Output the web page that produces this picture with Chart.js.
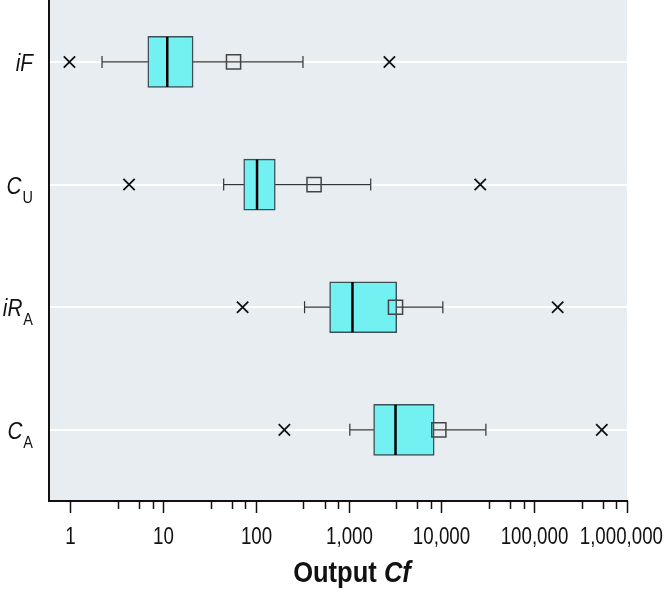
<!DOCTYPE html>
<html>
<head>
<meta charset="utf-8">
<script src="https://cdn.jsdelivr.net/npm/chart.js@4.4.1/dist/chart.umd.min.js"></script>
<style>
  html, body { margin: 0; padding: 0; background: #ffffff; }
  canvas { display: block; }
</style>
</head>
<body>
<canvas id="chart" width="671" height="592"></canvas>
<script>
const LABEL_MAIN = ["iF", "C", "iR", "C"];
const LABEL_SUB = ["", "U", "A", "A"];

const MIN_VALUES = [0.98, 4.3, 72, 203];
const WHISKER_LOW = [2.2, 45, 335, 1030];
const Q1_VALUES = [6.85, 74, 624, 1860];
const MEDIAN_VALUES = [11.1, 103, 1100, 3200];
const Q3_VALUES = [21.1, 162, 3300, 8360];
const MEAN_VALUES = [57.5, 424, 3200, 9380];
const WHISKER_HIGH = [322, 1730, 10360, 30150];
const MAX_VALUES = [2750, 26200, 179000, 535000];

const MAJOR_TICKS = [1, 10, 100, 1000, 10000, 100000, 1000000];
const MINOR_STEPS = [3.25, 5.5, 7.7];

const FONT = '"Liberation Sans", Arial, "DejaVu Sans", sans-serif';

const rows = LABEL_MAIN.map((_, i) => i);
const points = (values) => values.map((v, i) => ({ x: v, y: i }));

// text drawn narrower than the installed font, to mimic a condensed face
function narrowText(ctx, text, x, y, font, align, squeeze) {
  ctx.save();
  ctx.font = font;
  const w = ctx.measureText(text).width * squeeze;
  let left = x;
  if (align === "center") left = x - w / 2;
  if (align === "right") left = x - w;
  ctx.translate(left, y);
  ctx.scale(squeeze, 1);
  ctx.textAlign = "left";
  ctx.fillText(text, 0, 0);
  ctx.restore();
  return w;
}

function textWidth(ctx, text, font, squeeze) {
  ctx.save();
  ctx.font = font;
  const w = ctx.measureText(text).width * squeeze;
  ctx.restore();
  return w;
}

const plotBackground = {
  id: "plotBackground",
  beforeDraw(chart) {
    const { ctx, chartArea } = chart;
    ctx.save();
    ctx.fillStyle = "#e8edf1";
    ctx.fillRect(chartArea.left, chartArea.top, chartArea.right - chartArea.left, chartArea.bottom - chartArea.top);
    ctx.restore();
  },
};

const axisDecor = {
  id: "axisDecor",
  afterDraw(chart) {
    const { ctx, chartArea, width } = chart;
    const xScale = chart.scales.x;
    const yScale = chart.scales.y;
    ctx.save();

    // tick marks and labels below the x axis
    ctx.strokeStyle = "#111";
    ctx.fillStyle = "#111";
    ctx.lineWidth = 1.5;
    ctx.textBaseline = "alphabetic";
    const tickFont = "24px " + FONT;
    MAJOR_TICKS.forEach((v) => {
      const px = Math.round(xScale.getPixelForValue(v)) + 0.5;
      ctx.beginPath();
      ctx.moveTo(px, chartArea.bottom);
      ctx.lineTo(px, chartArea.bottom + 12);
      ctx.stroke();
      if (v < 1000000) {
        MINOR_STEPS.forEach((m) => {
          const mx = Math.round(xScale.getPixelForValue(v * m)) + 0.5;
          ctx.beginPath();
          ctx.moveTo(mx, chartArea.bottom);
          ctx.lineTo(mx, chartArea.bottom + 8);
          ctx.stroke();
        });
      }
      const label = v.toLocaleString("en-US");
      const w = textWidth(ctx, label, tickFont, 0.78);
      const cx = Math.min(px, width - 8 - w / 2);
      narrowText(ctx, label, cx, 544, tickFont, "center", 0.78);
    });

    // category labels with subscripts
    rows.forEach((i) => {
      const py = yScale.getPixelForValue(i);
      const right = 33;
      const subFont = "17px " + FONT;
      const mainFont = "italic 23px " + FONT;
      const subWidth = LABEL_SUB[i] ? textWidth(ctx, LABEL_SUB[i], subFont, 0.85) + 1 : 0;
      narrowText(ctx, LABEL_MAIN[i], right - subWidth, py + 9, mainFont, "right", 0.9);
      if (LABEL_SUB[i]) {
        narrowText(ctx, LABEL_SUB[i], right - subWidth + 1, py + 18, subFont, "left", 0.85);
      }
    });

    // axis title
    const fontA = "bold 29px " + FONT;
    const fontB = "italic bold 29px " + FONT;
    const wA = textWidth(ctx, "Output ", fontA, 0.88);
    const wB = textWidth(ctx, "Cf", fontB, 0.88);
    const startX = 352 - (wA + wB) / 2;
    narrowText(ctx, "Output ", startX, 582, fontA, "left", 0.88);
    narrowText(ctx, "Cf", startX + wA, 582, fontB, "left", 0.88);
    ctx.restore();
  },
};

const chart = new Chart(document.getElementById("chart"), {
  type: "scatter",
  data: {
    datasets: [
      ...rows.map((i) => ({
        type: "line",
        data: [{ x: WHISKER_LOW[i], y: i }, { x: WHISKER_HIGH[i], y: i }],
        borderColor: "#333",
        borderWidth: 1.2,
        pointRadius: 0,
        order: 9,
      })),
      {
        type: "bar",
        indexAxis: "y",
        data: rows.map((i) => ({ y: i, x: [Q1_VALUES[i], Q3_VALUES[i]] })),
        backgroundColor: "#72f0f2",
        borderColor: "#3b4f55",
        borderWidth: 1.5,
        borderSkipped: false,
        barThickness: 51,
        order: 5,
      },
      {
        data: points(MEDIAN_VALUES),
        pointStyle: "line",
        rotation: 90,
        pointRadius: 25,
        borderColor: "#000",
        pointBorderWidth: 2.5,
        order: 4,
      },
      {
        data: [...points(WHISKER_LOW), ...points(WHISKER_HIGH)],
        pointStyle: "line",
        rotation: 90,
        pointRadius: 6,
        borderColor: "#333",
        pointBorderWidth: 1.2,
        order: 3,
      },
      {
        data: points(MEAN_VALUES),
        pointStyle: "rect",
        pointRadius: 10,
        backgroundColor: "rgba(0,0,0,0)",
        borderColor: "#444",
        pointBorderWidth: 1.5,
        order: 2,
      },
      {
        data: [...points(MIN_VALUES), ...points(MAX_VALUES)],
        pointStyle: "crossRot",
        pointRadius: 8,
        borderColor: "#111",
        pointBorderWidth: 1.8,
        order: 1,
      },
    ],
  },
  options: {
    responsive: false,
    animation: false,
    events: [],
    layout: { autoPadding: false, padding: { top: 0, right: 44, left: 0, bottom: 0 } },
    plugins: {
      legend: { display: false },
      tooltip: { enabled: false },
    },
    scales: {
      x: {
        type: "logarithmic",
        min: 0.59,
        max: 1000000,
        afterBuildTicks(scale) {
          scale.ticks = MAJOR_TICKS.map((v) => ({ value: v }));
        },
        afterFit(scale) {
          scale.height = 91;
          scale.paddingLeft = 0;
          scale.paddingRight = 0;
        },
        grid: { display: false, drawTicks: false },
        border: { display: true, color: "#111", width: 2 },
        ticks: { display: false },
      },
      y: {
        type: "linear",
        reverse: true,
        offset: false,
        min: -0.505,
        max: 3.58,
        afterBuildTicks(scale) {
          scale.ticks = rows.map((v) => ({ value: v }));
        },
        afterFit(scale) {
          scale.width = 49;
          scale.paddingTop = 0;
          scale.paddingBottom = 0;
        },
        grid: { color: "#ffffff", lineWidth: 2, drawTicks: false, offset: false },
        border: { display: true, color: "#111", width: 2 },
        ticks: { display: false },
      },
    },
  },
  plugins: [plotBackground, axisDecor],
});
</script>
</body>
</html>
